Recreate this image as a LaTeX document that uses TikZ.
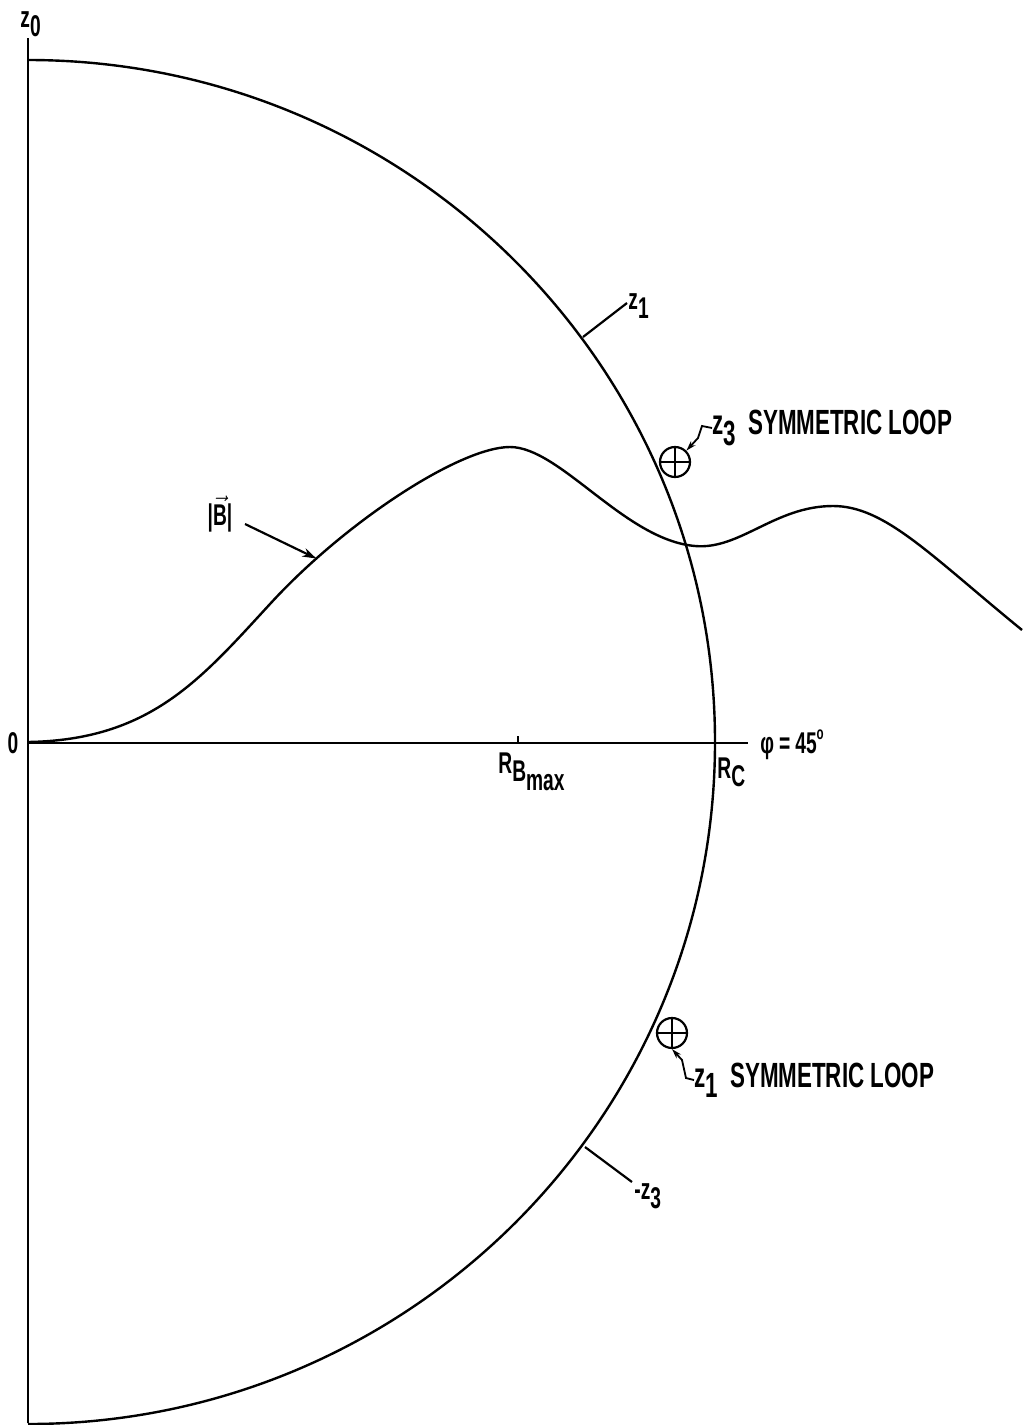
\documentclass[tikz,border=0pt]{standalone}
\usepackage{fontspec}
\setmainfont{Liberation Sans}[FakeStretch=0.64]
\usetikzlibrary{positioning,arrows.meta,calc}
\newcommand{\lowsub}[1]{\raisebox{-0.55ex}{#1}}
\tikzset{
  axis/.style={line width=1.2pt},
  fieldcurve/.style={line width=1.2pt},
  tickline/.style={line width=1.1pt},
  lbl/.style={font=\bfseries\fontsize{15}{17}\selectfont, inner sep=0pt},
  looplbl/.style={font=\bfseries\fontsize{17.5}{19}\selectfont, inner sep=0pt, anchor=west},
  loopmark/.style={circle, draw, line width=1.1pt, minimum size=15pt, inner sep=0pt,
                   path picture={
                     \draw[line width=0.9pt] (path picture bounding box.north) -- (path picture bounding box.south);
                     \draw[line width=0.9pt] (path picture bounding box.west) -- (path picture bounding box.east);}},
  leader/.style={line width=0.9pt, -{Stealth[length=5pt,width=3pt]}},
  pointer/.style={line width=1.1pt, -{Stealth[length=7pt,width=4.5pt]}}
}

\begin{document}
\begin{tikzpicture}[x=0.5pt,y=-0.5pt]
  \useasboundingbox (0,0) rectangle (1026,1425);
  % axes and boundary
  \coordinate (o) at (28,743);
  \coordinate (top) at (28,38);
  \coordinate (bot) at (28,1423);
  \coordinate (rc) at (715,743);
  \coordinate (axend) at (748,743);
  \coordinate (rb) at (518,743);
  \draw[axis] (top) -- (bot);
  \draw[axis] (o) -- (axend);
  \draw[axis] (o) ++(0,-683) arc[start angle=-90, end angle=90, x radius=687, y radius=682];
  \draw[tickline] (rb) -- ++(0,-7);

  % |B| along phi = 45 deg
  \draw[fieldcurve] (28,742)
    .. controls (150,740) and (200,680) .. (270,604)
    .. controls (345,522) and (460,447) .. coordinate[pos=0.19] (bpt) (510,447)
    .. controls (560,447) and (625,540) .. (695,546)
    .. controls (740,550) and (775,506) .. (833,506)
    .. controls (885,506) and (930,555) .. (1022,630);

  % labels on the axes
  \node[lbl, anchor=west] (zzero) at (20,24) {z\lowsub{0}};
  \node[lbl] (orig) at (13,743) {0};
  \node[lbl, anchor=north west] (rbmax) at (498,752) {R\lowsub{B\lowsub{max}}};
  \node[lbl, anchor=north west] (rcl) at (717,757) {R\lowsub{C}};
  \node[lbl, anchor=west] (phil) at (760,745) {φ\,=\,45\raisebox{0.9ex}{\fontsize{9}{9}\selectfont o}};

  % surfaces
  \coordinate (zoa) at (583,337);
  \coordinate (zob) at (627,303);
  \draw[tickline] (zoa) -- (zob);
  \node[lbl, anchor=west] (zone) at (628,306) {z\lowsub{1}};
  \coordinate (zta) at (585,1147);
  \coordinate (ztb) at (632,1182);
  \draw[tickline] (zta) -- (ztb);
  \node[lbl, anchor=west] (zthree) at (634,1196) {-z\lowsub{3}};

  % |B| pointer
  \node[lbl] (blbl) at (220,514) {\textbar$\vec{\hbox{B}}$\textbar};
  \draw[pointer] (245,524) -- (bpt);

  % loops
  \node[loopmark] (loopa) at (675,462) {};
  \node[looplbl] (loopatxt) at (712,428) {z\lowsub{3}\, SYMMETRIC LOOP};
  \draw[leader] (loopatxt.west) -- ++(-10,-2) -- ++(-4,12) -- (loopa.north east);
  \node[loopmark] (loopb) at (672,1033) {};
  \node[looplbl] (loopbtxt) at (694,1080) {z\lowsub{1}\, SYMMETRIC LOOP};
  \draw[leader] (loopbtxt.west) -- ++(-8,-2) -- ++(-4,-18) -- (loopb.south);
\end{tikzpicture}
\end{document}
